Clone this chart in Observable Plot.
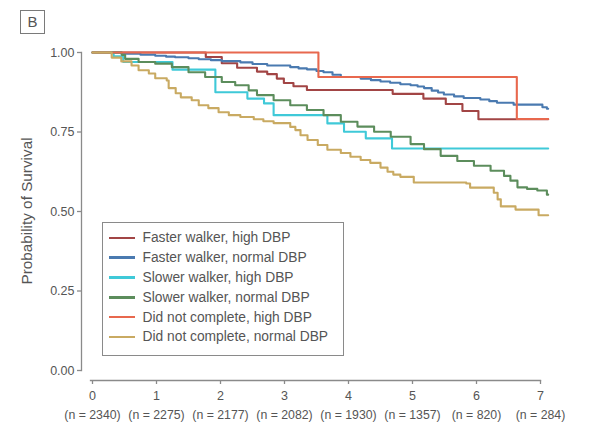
<!DOCTYPE html>
<html>
<head>
<meta charset="utf-8">
<script src="https://cdn.jsdelivr.net/npm/d3@7"></script>
<script src="https://cdn.jsdelivr.net/npm/@observablehq/plot@0.6"></script>
<style>
  html, body { margin: 0; padding: 0; background: #fff; }
  #wrap { position: relative; width: 594px; height: 425px; font-family: "Liberation Sans", Arial, sans-serif; }
  #panel {
    position: absolute; left: 20px; top: 10px; width: 25px; height: 24px;
    box-sizing: border-box; border: 1.3px solid #7a7a7a;
    font-size: 15px; color: #555; text-align: center; line-height: 22px;
  }
  #ylabel {
    position: absolute; left: 27px; top: 211px; width: 0; height: 0;
  }
  #ylabel span {
    position: absolute; left: 0; top: 0; white-space: nowrap;
    font-size: 15.3px; color: #555; line-height: 1;
    transform: translate(-50%, -50%) rotate(-90deg);
  }
  #legend {
    position: absolute; left: 102px; top: 222px; width: 242px; height: 134px;
    box-sizing: border-box; border: 1.5px solid #8a8a8a; background: #fff;
    padding-top: 5px;
  }
  .row { display: flex; align-items: center; height: 19.8px; }
  .swatch { margin-left: 6px; width: 26px; height: 2.6px; }
  .label { margin-left: 7.5px; font-size: 13.8px; color: #555; white-space: nowrap; }
</style>
</head>
<body>
<div id="wrap">
  <div id="chart"></div>
  <div id="panel">B</div>
  <div id="ylabel"><span>Probability of Survival</span></div>
  <div id="legend"></div>
</div>
<script>
// Kaplan-Meier survival by walking speed and diastolic blood pressure
const groups = [
  "Faster walker, high DBP",
  "Faster walker, normal DBP",
  "Slower walker, high DBP",
  "Slower walker, normal DBP",
  "Did not complete, high DBP",
  "Did not complete, normal DBP"
];
const colors = ["#a24545", "#4a7ab0", "#3fc9d8", "#5c8d5c", "#e8684e", "#c9aa62"];

const years = [0, 1, 2, 3, 4, 5, 6, 7];
const atRisk = [2340, 2275, 2177, 2082, 1930, 1357, 820, 284];
const survivalTicks = [0, 0.25, 0.5, 0.75, 1];
const followUpEnd = 7.12;

// step times (years) and survival after each step
const fasterHighTime = [0, 1.77, 2.02, 2.26, 2.57, 2.73, 2.88, 2.99, 3.14, 3.35, 4.69, 5.17, 5.52, 5.78, 6.03];
const fasterHighSurv = [1, 0.986, 0.966, 0.952, 0.94, 0.932, 0.918, 0.904, 0.894, 0.882, 0.870, 0.855, 0.838, 0.816, 0.79];

const fasterNormalTime = [0, 0.45, 0.75, 0.98, 1.15, 1.29, 1.5, 1.66, 1.85, 2.02, 2.31, 2.5, 2.73, 3.09, 3.22, 3.35, 3.5, 3.61, 3.75, 3.88, 4.19, 4.35, 4.5, 4.65, 4.81, 4.97, 5.08, 5.18, 5.3, 5.4, 5.49, 5.65, 5.8, 6.06, 6.2, 6.32, 6.58, 7.03, 7.1];
const fasterNormalSurv = [1, 0.996, 0.993, 0.99, 0.987, 0.985, 0.982, 0.979, 0.976, 0.973, 0.969, 0.964, 0.959, 0.954, 0.95, 0.947, 0.942, 0.938, 0.93, 0.923, 0.918, 0.913, 0.909, 0.905, 0.9, 0.897, 0.893, 0.888, 0.88, 0.874, 0.868, 0.862, 0.857, 0.852, 0.847, 0.842, 0.836, 0.828, 0.823];

const slowerHighTime = [0, 0.33, 0.48, 1.25, 1.92, 2.42, 2.68, 2.83, 3.67, 3.93, 4.27, 4.68];
const slowerHighSurv = [1, 0.988, 0.97, 0.946, 0.875, 0.855, 0.84, 0.803, 0.777, 0.751, 0.73, 0.698];

const slowerNormalTime = [0, 0.46, 0.51, 0.72, 0.98, 1.24, 1.5, 1.76, 2.02, 2.23, 2.44, 2.57, 2.83, 3.09, 3.35, 3.61, 3.88, 4.14, 4.4, 4.66, 4.97, 5.18, 5.44, 5.7, 5.96, 6.22, 6.43, 6.53, 6.64, 6.79, 6.95, 7.1];
const slowerNormalSurv = [1, 0.992, 0.98, 0.97, 0.965, 0.954, 0.938, 0.923, 0.907, 0.897, 0.881, 0.866, 0.85, 0.834, 0.819, 0.803, 0.782, 0.767, 0.751, 0.735, 0.712, 0.696, 0.675, 0.659, 0.644, 0.628, 0.612, 0.597, 0.576, 0.571, 0.566, 0.553];

const dncHighTime = [0, 3.53, 6.63];
const dncHighSurv = [1, 0.923, 0.791];

const dncNormalTime = [0, 0.3, 0.45, 0.61, 0.72, 0.88, 0.98, 1.16, 1.19, 1.3, 1.38, 1.55, 1.66, 1.81, 1.97, 2.13, 2.31, 2.52, 2.67, 2.83, 3.09, 3.17, 3.25, 3.36, 3.52, 3.67, 3.88, 4.03, 4.19, 4.34, 4.5, 4.61, 4.7, 4.81, 5.02, 5.84, 5.9, 6.27, 6.33, 6.38, 6.61, 6.97];
const dncNormalSurv = [1, 0.984, 0.972, 0.959, 0.944, 0.934, 0.919, 0.912, 0.888, 0.872, 0.859, 0.85, 0.834, 0.825, 0.812, 0.803, 0.797, 0.79, 0.784, 0.778, 0.766, 0.756, 0.74, 0.725, 0.709, 0.694, 0.684, 0.672, 0.662, 0.653, 0.638, 0.625, 0.616, 0.609, 0.591, 0.588, 0.575, 0.559, 0.538, 0.516, 0.506, 0.488];

const curves = [
  [fasterHighTime, fasterHighSurv],
  [fasterNormalTime, fasterNormalSurv],
  [slowerHighTime, slowerHighSurv],
  [slowerNormalTime, slowerNormalSurv],
  [dncHighTime, dncHighSurv],
  [dncNormalTime, dncNormalSurv]
];

// long-format rows; each curve is carried flat to the end of follow-up
const rows = [];
curves.forEach(([t, s], g) => {
  t.forEach((time, i) => rows.push({group: groups[g], time, surv: s[i]}));
  rows.push({group: groups[g], time: followUpEnd, surv: s[s.length - 1]});
});

const axisGray = "#8a8a8a";
const textGray = "#555";

// axes sit just off the data area (offset axes)
const chart = Plot.plot({
  width: 594,
  height: 425,
  marginTop: 52,
  marginBottom: 45,
  marginLeft: 81,
  marginRight: 54,
  insetLeft: 11,
  insetBottom: 10,
  style: {fontFamily: "'Liberation Sans', Arial, sans-serif", background: "transparent", overflow: "visible"},
  x: {domain: [0, 7], label: null},
  y: {domain: [0, 1], label: null},
  color: {domain: groups, range: colors},
  marks: [
    Plot.frame({anchor: "left", insetBottom: 10, stroke: axisGray, strokeWidth: 1.3}),
    Plot.frame({anchor: "bottom", insetLeft: 9, stroke: axisGray, strokeWidth: 1.3}),
    Plot.axisY(survivalTicks, {
      tickFormat: d3.format(".2f"), tickSize: 4, tickPadding: 3,
      stroke: axisGray, strokeWidth: 1.3, fill: textGray, fontSize: 12.5, label: null
    }),
    Plot.axisX(years, {
      tickSize: 4, tickPadding: 6.5,
      stroke: axisGray, strokeWidth: 1.3, fill: textGray, fontSize: 12.5, label: null
    }),
    // number at risk under each year
    Plot.axisX(years, {
      tickSize: 0, tickPadding: 29.5,
      tickFormat: d => `(n = ${atRisk[years.indexOf(d)]})`,
      fill: textGray, fontSize: 12.3, label: null
    }),
    Plot.line(rows, {
      x: "time", y: "surv", z: "group", stroke: "group",
      curve: "step-after", strokeWidth: 2.1
    })
  ]
});
document.getElementById("chart").appendChild(chart);

// legend rows: line swatch + group name
const legend = d3.select("#legend");
groups.forEach((g, i) => {
  const row = legend.append("div").attr("class", "row");
  row.append("div").attr("class", "swatch").style("background", colors[i]);
  row.append("div").attr("class", "label").text(g);
});
</script>
</body>
</html>
